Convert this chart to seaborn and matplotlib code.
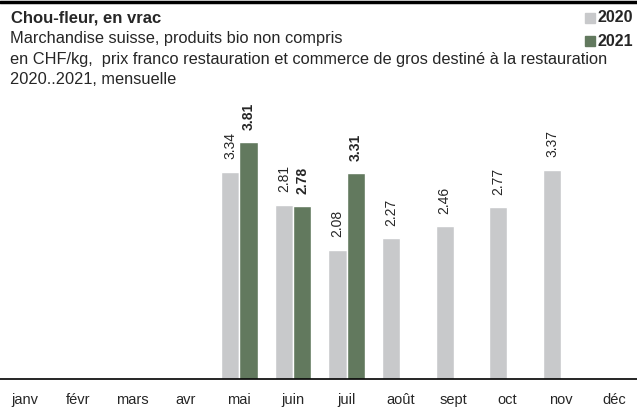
import numpy as np
import pandas as pd
import seaborn as sns
from matplotlib import pyplot as plt
from matplotlib.lines import Line2D
from matplotlib.patches import Rectangle

months = ["janv", "févr", "mars", "avr", "mai", "juin", "juil", "août", "sept", "oct", "nov", "déc"]
prices_2020 = [np.nan, np.nan, np.nan, np.nan, 3.34, 2.81, 2.08, 2.27, 2.46, 2.77, 3.37, np.nan]
prices_2021 = [np.nan, np.nan, np.nan, np.nan, 3.81, 2.78, 3.31, np.nan, np.nan, np.nan, np.nan, np.nan]
years = ["2020", "2021"]
colors = {"2020": "#c8c9cb", "2021": "#62795e"}


def main():
    df = pd.DataFrame({
        "Mois": months * 2,
        "Prix": prices_2020 + prices_2021,
        "Année": ["2020"] * 12 + ["2021"] * 12,
    })

    sns.set_style("white")
    plt.rcParams["font.family"] = ["Liberation Sans", "DejaVu Sans"]

    fig = plt.figure(figsize=(6.37, 4.08), dpi=100)
    ax = fig.add_axes([-0.003, 29 / 408, 1.01, 0.70])
    sns.barplot(df, x="Mois", y="Prix", hue="Année", order=months, hue_order=years,
                palette=colors, width=0.68, saturation=1, legend=False, ax=ax)

    ax.set_ylim(0, 4.6)
    ax.set_xlim(-0.5, 11.5)
    ax.set_xlabel("")
    ax.set_ylabel("")
    ax.set_yticks([])
    for s in ["top", "right", "left"]:
        ax.spines[s].set_visible(False)
    ax.spines["bottom"].set_color("black")
    ax.spines["bottom"].set_linewidth(1.2)
    ax.tick_params(axis="x", length=0, pad=10, labelsize=10.5)

    for cont, year in zip(ax.containers, years):
        for bar in cont:
            h = bar.get_height()
            if np.isnan(h) or h == 0:
                continue
            ax.annotate(f"{h:.2f}", (bar.get_x() + bar.get_width() / 2, h),
                        xytext=(0, 9), textcoords="offset points",
                        rotation=90, ha="center", va="bottom", fontsize=10,
                        fontweight="bold" if year == "2021" else "normal")

    # header
    fig.add_artist(Line2D([0, 1], [0.995, 0.995], color="black", lw=2.5,
                          transform=fig.transFigure))
    fig.text(11 / 637, 1 - 18 / 408, "Chou-fleur, en vrac", fontsize=12,
             fontweight="bold", va="center")
    subtitle = ["Marchandise suisse, produits bio non compris",
                "en CHF/kg,  prix franco restauration et commerce de gros destiné à la restauration",
                "2020..2021, mensuelle"]
    for i, line in enumerate(subtitle):
        fig.text(10 / 637, 1 - (39 + 20.5 * i) / 408, line, fontsize=11.8, va="center")

    for i, year in enumerate(years):
        y = 1 - (18 + 23 * i) / 408
        fig.add_artist(Rectangle((585 / 637, y - 5 / 408), 10 / 637, 10 / 408,
                                 color=colors[year], transform=fig.transFigure))
        fig.text(597 / 637, y, year, fontsize=11.5, fontweight="bold", va="center")

    fig.savefig("out.png", dpi=100)
    plt.close(fig)


if __name__ == '__main__':
    main()
